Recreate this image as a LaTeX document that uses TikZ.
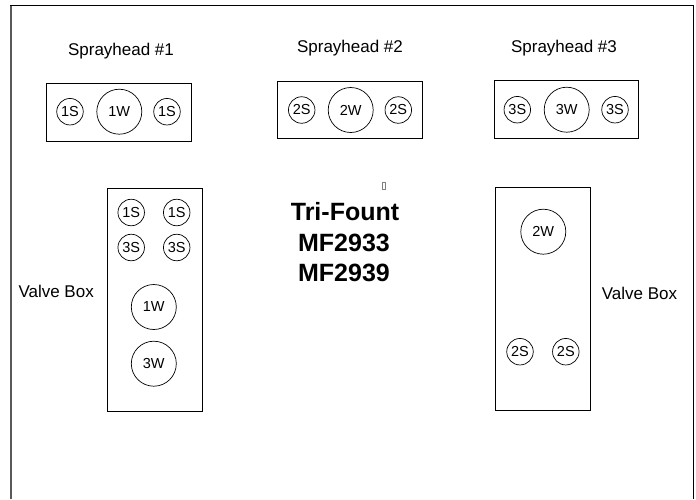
\documentclass[tikz,border=0pt]{standalone}
\usepackage{fontspec}
\setmainfont{Liberation Sans}
\usetikzlibrary{positioning}

\begin{document}
\begin{tikzpicture}[
  x=1pt, y=-1pt,
  every node/.style={font=\fontsize{14.5}{16}\selectfont},
  lbl/.style={font=\fontsize{17}{20}\selectfont, inner sep=0pt},
  ttl/.style={font=\fontsize{25}{30}\selectfont\bfseries, inner sep=0pt, anchor=base},
  box/.style={draw, line width=0.9pt, inner sep=0pt},
  sport/.style={draw, circle, line width=0.7pt, minimum size=26.5pt, inner sep=0pt},
  wport/.style={draw, circle, line width=0.7pt, minimum size=45pt, inner sep=0pt},
]
\useasboundingbox (0,0) rectangle (696,499);

% page frame (open at the bottom)
\draw[line width=2pt, black!65] (10.7,499) -- (10.7,5.5);
\draw[line width=1.4pt] (10,5.5) -- (693.5,5.5) -- (693.5,499);

% sprayheads
\node[lbl, anchor=base] (t1) at (121,55) {Sprayhead \#1};
\node[lbl, anchor=base] (t2) at (350,52) {Sprayhead \#2};
\node[lbl, anchor=base] (t3) at (564,52) {Sprayhead \#3};

\node[box, minimum width=145pt, minimum height=58pt] (sh1) at (118.5,112) {};
\node[box, minimum width=145pt, minimum height=57pt] (sh2) at (349.8,109.7) {};
\node[box, minimum width=144pt, minimum height=57.5pt] (sh3) at (566.2,109.5) {};

\node[sport] (s1a) at (70,111.7) {1S};
\node[wport] (w1)  at (119.3,111.7) {1W};
\node[sport] (s1b) at (167,111.7) {1S};

\node[sport] (s2a) at (301.7,110) {2S};
\node[wport] (w2)  at (350.7,110) {2W};
\node[sport] (s2b) at (398.3,110) {2S};

\node[sport] (s3a) at (517.3,109.7) {3S};
\node[wport] (w3)  at (566.7,109.7) {3W};
\node[sport] (s3b) at (615,109.7) {3S};

% title
\node[draw=black!50, line width=0.5pt, minimum width=2.6pt, minimum height=6.7pt, inner sep=0pt] (tofu) at (384,185.4) {};
\node[ttl] (title1) at (345,220) {Tri-Fount};
\node[ttl] (title2) at (344,251) {MF2933};
\node[ttl] (title3) at (344,281) {MF2939};

% left valve box
\node[box, minimum width=95pt, minimum height=222.7pt] (vb1) at (154.8,299.7) {};
\node[lbl, anchor=base west] (v1) at (18.3,297) {Valve Box};
\node[sport] (v1s1a) at (131.2,212.5) {1S};
\node[sport] (v1s1b) at (176.7,212.5) {1S};
\node[sport] (v1s3a) at (131.2,247.5) {3S};
\node[sport] (v1s3b) at (176.7,247.5) {3S};
\node[wport] (v1w1) at (153.8,307) {1W};
\node[wport] (v1w3) at (153.8,363.7) {3W};

% right valve box
\node[box, minimum width=95pt, minimum height=223.4pt] (vb2) at (542.5,299) {};
\node[lbl, anchor=base west] (v2) at (601.7,299.3) {Valve Box};
\node[wport] (v2w2) at (543.3,231.7) {2W};
\node[sport] (v2s2a) at (520,351.7) {2S};
\node[sport] (v2s2b) at (565.8,351.7) {2S};
\end{tikzpicture}
\end{document}
